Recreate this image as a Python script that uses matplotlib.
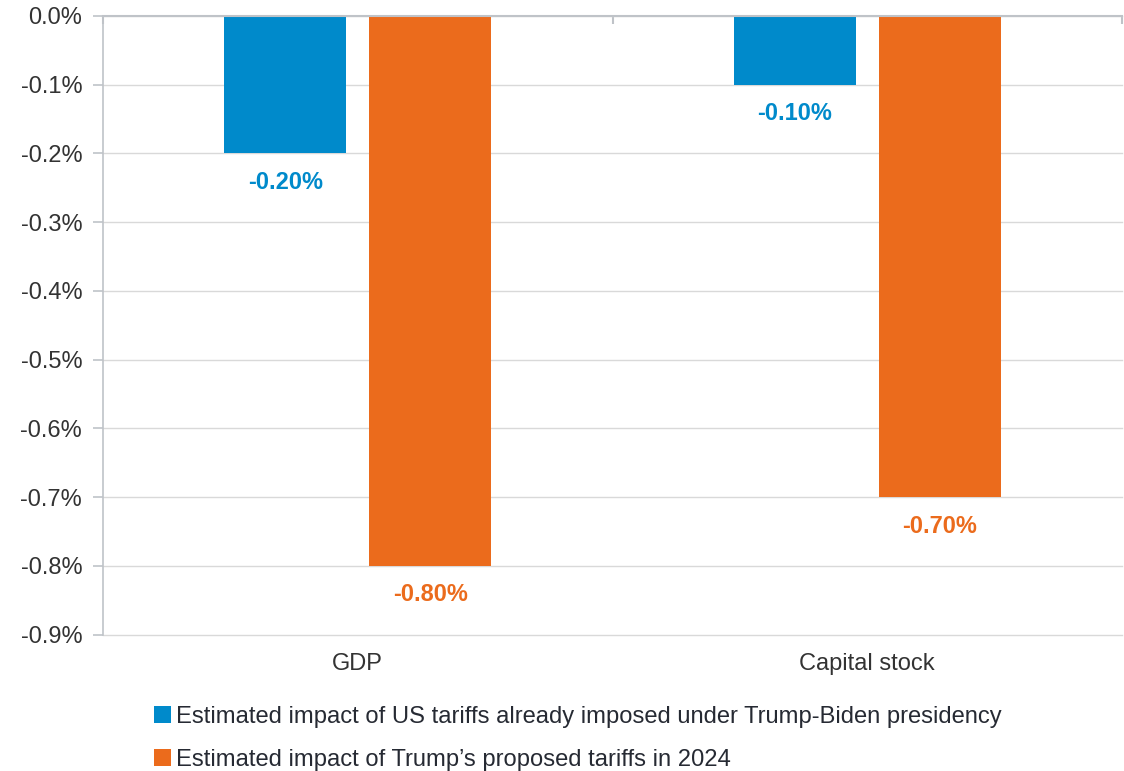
import matplotlib
matplotlib.use("Agg")
import matplotlib.pyplot as plt
import matplotlib.transforms as mtrans
from matplotlib.patches import Patch
import numpy as np

plt.rcParams['font.family'] = ['Liberation Sans', 'DejaVu Sans']

categories = ["GDP", "Capital stock"]
series_names = ["Estimated impact of US tariffs already imposed under Trump-Biden presidency",
                "Estimated impact of Trump\u2019s proposed tariffs in 2024"]
already_imposed = [-0.20, -0.10]
proposed = [-0.80, -0.70]
yticks = [0.0, -0.1, -0.2, -0.3, -0.4, -0.5, -0.6, -0.7, -0.8, -0.9]

blue = "#008ACB"
orange = "#EB6B1C"
text_col = "#333333"
spine_col = "#BFC3C8"
grid_col = "#D9D9D9"

fig = plt.figure(figsize=(11.24, 7.71), dpi=100)
ax = fig.add_axes([103/1124, 1-634.5/771, (1122-103)/1124, (634.5-16)/771])

x = np.arange(len(categories))
w = 0.239
off = 0.1425
b1 = ax.bar(x - off, already_imposed, w, color=blue, zorder=3)
b2 = ax.bar(x + off, proposed, w, color=orange, zorder=3)

for bars, vals, c in [(b1, already_imposed, blue), (b2, proposed, orange)]:
    for rect, v in zip(bars, vals):
        ax.annotate(f"{v:.2f}%", (rect.get_x() + rect.get_width()/2, v),
                    xytext=(0, -29), textcoords="offset pixels",
                    ha="center", va="center", fontsize=17, fontweight="bold", color=c)

ax.set_xlim(-0.5, len(categories) - 0.5)
ax.set_ylim(-0.9, 0.0)
ax.set_yticks(yticks)
ax.set_yticklabels([f"{t:.1f}%" for t in yticks], fontsize=17, color=text_col)
ax.yaxis.grid(True, color=grid_col, linewidth=1, zorder=0)
for gl in ax.yaxis.get_gridlines():
    gl.set_clip_on(False)
ax.tick_params(axis="y", length=7, color=spine_col, pad=8, width=1.2)

# category labels at bottom
ax.set_xticks([])
cat_tr = mtrans.offset_copy(ax.transData, fig=fig, x=0, y=-18, units="dots")
for xi, cat in zip(x, categories):
    ax.text(xi, -0.9, cat, transform=cat_tr, ha="center", va="top",
            fontsize=17, color=text_col)

# top axis line with boundary ticks
for s in ["right", "bottom"]:
    ax.spines[s].set_visible(False)
ax.spines["left"].set_color(spine_col)
ax.spines["left"].set_linewidth(1.2)
ax.spines["top"].set_color(spine_col)
ax.spines["top"].set_linewidth(1.5)
ax.spines["top"].set_zorder(4)
sec = ax.secondary_xaxis("top")
sec.set_xticks(np.arange(-0.5, len(categories), 1.0))
sec.set_xticklabels([])
sec.tick_params(direction="in", length=6, color=spine_col, width=1.5)
sec.spines["top"].set_visible(False)

handles = [Patch(facecolor=blue), Patch(facecolor=orange)]
leg = fig.legend(handles, series_names, loc="upper left", bbox_to_anchor=(154/1124, 1-706/771),
                 frameon=False, fontsize=17.1, handlelength=0.72, handleheight=0.72,
                 handletextpad=0.2, labelspacing=0.88, borderaxespad=0, borderpad=0)
for t in leg.get_texts():
    t.set_color("#262A33")

fig.savefig("out.png", dpi=100)
